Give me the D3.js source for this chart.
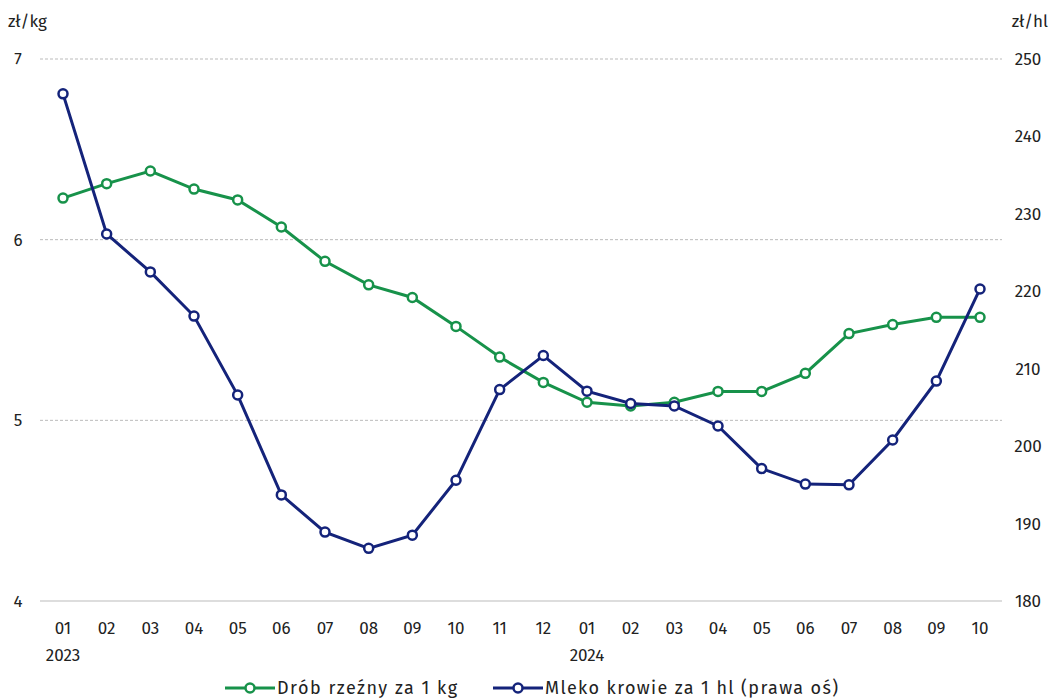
<!DOCTYPE html>
<html><head><meta charset="utf-8">
<script src="https://cdn.jsdelivr.net/npm/d3@7"></script>
<style>body{margin:0;background:#fff}text{font-family:"Fira Sans","Noto Sans",sans-serif;fill:#222}</style>
</head><body><svg id="c" width="1056" height="699"></svg>
<script>
const months = ["01","02","03","04","05","06","07","08","09","10","11","12","01","02","03","04","05","06","07","08","09","10"];
const years = {0:"2023",12:"2024"};
const poultry = [6.23,6.31,6.38,6.28,6.22,6.07,5.88,5.75,5.68,5.52,5.35,5.21,5.10,5.08,5.10,5.16,5.16,5.26,5.48,5.53,5.57,5.57];
const milk = [245.5,227.4,222.5,216.8,206.6,193.7,188.9,186.8,188.5,195.6,207.3,211.7,207.1,205.5,205.2,202.6,197.1,195.1,195.0,200.8,208.4,220.3];
const leftTicks = [4,5,6,7], rightTicks = [180,190,200,210,220,230,240,250];
const green = "#17924a", navy = "#14237a";

const svg = d3.select("#c");
const x = d3.scalePoint().domain(d3.range(months.length)).range([63,980]);
const yL = d3.scaleLinear().domain([4,7]).range([601,59]);
const yR = d3.scaleLinear().domain([180,250]).range([601,59]);

leftTicks.forEach(t=>{
  svg.append("line").attr("x1",40).attr("x2",1002).attr("y1",yL(t)).attr("y2",yL(t))
    .attr("stroke","#bbb").attr("stroke-dasharray",t===4?null:"3,2");
  svg.append("text").attr("x",18).attr("y",yL(t)+6).attr("text-anchor","middle").attr("font-size",17).text(t);
});
rightTicks.forEach(t=>svg.append("text").attr("x",1028).attr("y",yR(t)+6).attr("text-anchor","middle").attr("font-size",17).text(t));
svg.append("text").attr("x",8).attr("y",27).attr("font-size",17).text("zł/kg");
svg.append("text").attr("x",1048).attr("y",27).attr("text-anchor","end").attr("font-size",17).text("zł/hl");
months.forEach((m,i)=>{
  svg.append("text").attr("x",x(i)).attr("y",634).attr("text-anchor","middle").attr("font-size",17).text(m);
  if(years[i]) svg.append("text").attr("x",x(i)).attr("y",661).attr("text-anchor","middle").attr("font-size",17).text(years[i]);
});

function series(data,y,col){
  svg.append("path").datum(data).attr("fill","none").attr("stroke",col).attr("stroke-width",3)
    .attr("d",d3.line().x((d,i)=>x(i)).y(d=>y(d)));
  svg.selectAll(null).data(data).enter().append("circle").attr("cx",(d,i)=>x(i)).attr("cy",d=>y(d))
    .attr("r",4.5).attr("fill","#fff").attr("stroke",col).attr("stroke-width",2.5);
}
series(poultry,yL,green);
series(milk,yR,navy);

[[225,green,"Drób rzeźny za 1 kg",180],[493,navy,"Mleko krowie za 1 hl (prawa oś)",293]].forEach(([lx,col,t,w])=>{
  svg.append("line").attr("x1",lx).attr("x2",lx+50).attr("y1",688).attr("y2",688).attr("stroke",col).attr("stroke-width",3);
  svg.append("circle").attr("cx",lx+25).attr("cy",688).attr("r",4.5).attr("fill","#fff").attr("stroke",col).attr("stroke-width",2.5);
  svg.append("text").attr("x",lx+52).attr("y",694).attr("font-size",18).attr("textLength",w)
    .attr("lengthAdjust","spacing").text(t);
});
</script></body></html>
